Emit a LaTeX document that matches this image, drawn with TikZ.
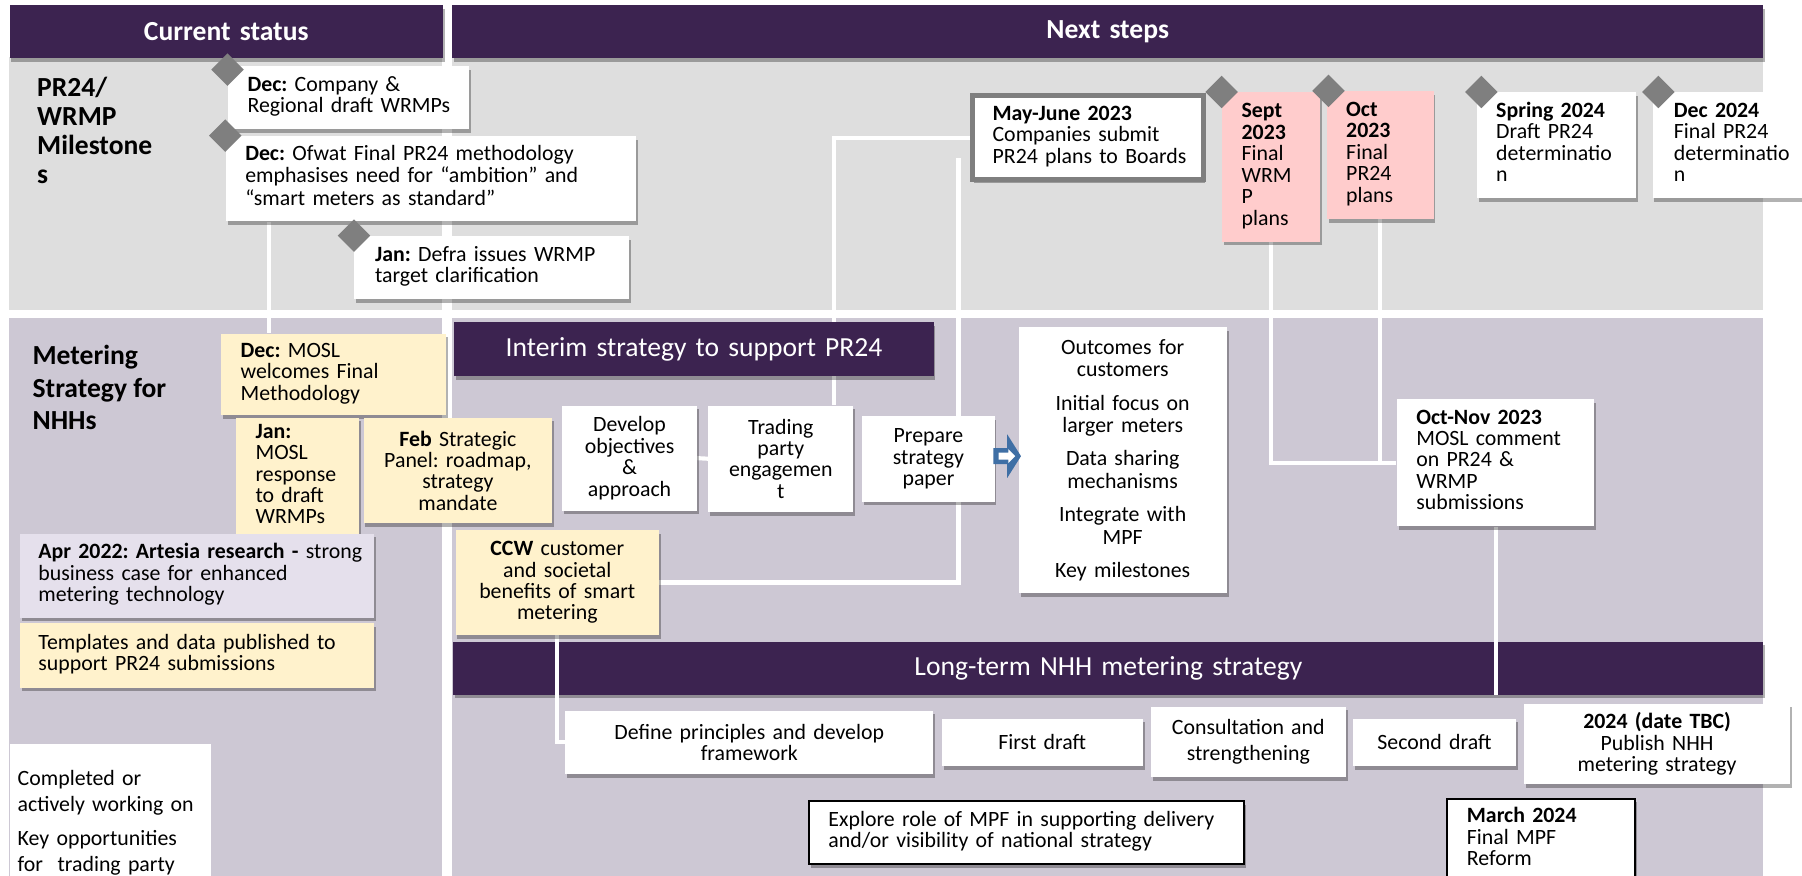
\documentclass[tikz,border=0pt]{standalone}
\usepackage{fontspec}
\setmainfont{Carlito}
\frenchspacing
\usetikzlibrary{shadows,calc}
\definecolor{hdrc}{HTML}{3C2350}
\definecolor{panA}{HTML}{DEDEDE}
\definecolor{panB}{HTML}{CDC8D4}
\definecolor{cream}{HTML}{FFF2CC}
\definecolor{pinkb}{HTML}{FFCCCC}
\definecolor{lav}{HTML}{E5E0EC}
\definecolor{diamgrey}{HTML}{7F7F7F}
\definecolor{arrowblue}{HTML}{3F6FA5}
\pgfdeclarelayer{back}\pgfdeclarelayer{low}\pgfdeclarelayer{heads}\pgfdeclarelayer{conn}
\pgfsetlayers{back,low,heads,conn,main}
\newcommand{\mylines}[1]{\begin{tabular}{@{}l@{}}#1\end{tabular}}
\newcommand{\mybox}[8]{%
  \pgfmathsetmacro{\myW}{(#4-#2)/2}%
  \pgfmathsetmacro{\myH}{(#5-#3)/2}%
  \pgfmathsetmacro{\myT}{(#4-#2)/2-#7}%
  \node[#6, anchor=north west, minimum width=\myW pt, minimum height=\myH pt,
        text width=\myT pt, inner xsep=0pt, inner ysep=0pt] (#1) at (#2,#3) {#8};}
\tikzset{
  shad/.style={drop shadow={shadow xshift=0.8pt,shadow yshift=-1.6pt,opacity=0.3,fill=black}},
  wbox/.style={fill=white, shad, align=left},
  wboxc/.style={fill=white, shad, align=center},
  cbox/.style={fill=cream, shad, align=left},
  cboxc/.style={fill=cream, shad, align=center},
  pbox/.style={fill=pinkb, shad, align=left},
  lbox/.style={fill=lav, shad, align=left},
  kbox/.style={fill=white, draw=black, line width=0.9pt, shad, align=left},
  mjbox/.style={fill=white, draw=diamgrey, line width=2.2pt, shad, align=left},
  hdr/.style={fill=hdrc, shad, text=white, align=center, font=\fontsize{12}{14}\selectfont},
  legst/.style={fill=white, align=left, font=\fontsize{9.5}{11.5}\selectfont},
  conn/.style={draw=white, line width=1.8pt},
  diam/.style={fill=diamgrey, minimum size=10pt, inner sep=0pt, rotate=45},
  arrowst/.style={fill=arrowblue},
  arrowin/.style={fill=white},
  lblA/.style={font=\fontsize{12}{12.6}\selectfont\bfseries, align=left, inner sep=0pt, anchor=north west},
  lblB/.style={font=\fontsize{12}{14.1}\selectfont\bfseries, align=left, inner sep=0pt, anchor=north west},
}
\begin{document}
\begin{tikzpicture}[x=0.5pt, y=-0.5pt, font=\fontsize{9.5}{9.3}\selectfont]
\useasboundingbox (0,0) rectangle (1568,762);
\begin{pgfonlayer}{back}
\fill[white] (0,0) rectangle (1568,762);
\fill[panA] (8,50) rectangle (385,270);
\fill[panA] (393,50) rectangle (1534,270);
\fill[panB] (8,277) rectangle (385,762);
\fill[panB] (393,277) rectangle (1534,762);
\end{pgfonlayer}

% headers
\begin{pgfonlayer}{heads}
\mybox{hcur}{8}{4}{385}{50}{hdr}{4}{\textbf{Current status}}
\mybox{hnext}{393}{4}{1534}{50}{hdr}{4}{\textbf{Next steps}}
\mybox{hint}{395}{280}{812}{327}{hdr}{4}{Interim strategy to support PR24}
\mybox{hlong}{394}{558}{1534}{604}{hdr}{4}{Long-term NHH metering strategy}
\end{pgfonlayer}

% row labels
\node[lblA] (lblpr) at (32,67) {PR24/\\WRMP\\Milestone\\s};
\node[lblB] (lblmet) at (28,300) {Metering\\Strategy for\\NHHs};

% top milestones
\mybox{companydec}{198}{57}{408}{112}{wbox}{17}{\mylines{\textbf{Dec:} Company \&\\Regional draft WRMPs}}
\mybox{ofwat}{196}{118}{553}{192}{wbox}{17}{\mylines{\textbf{Dec:} Ofwat Final PR24 methodology\\emphasises need for “ambition” and\\“smart meters as standard”}}
\mybox{defra}{308}{205}{547}{260}{wbox}{18}{\mylines{\textbf{Jan:} Defra issues WRMP\\target clarification}}
\mybox{mayjune}{844}{81}{1045}{154}{mjbox}{17.5}{\mylines{\textbf{May-June 2023}\\Companies submit\\PR24 plans to Boards}}
\mybox{sept}{1063}{80}{1148}{210}{pbox}{17}{\mylines{\textbf{Sept}\\\textbf{2023}\\Final\\WRM\\P\\plans}}
\mybox{oct}{1154}{79}{1247}{190}{pbox}{17}{\mylines{\textbf{Oct}\\\textbf{2023}\\Final\\PR24\\plans}}
\mybox{spring}{1285}{80}{1423}{172}{wbox}{16.5}{\mylines{\textbf{Spring 2024}\\Draft PR24\\determinatio\\n}}
\mybox{dectwo}{1437.6}{80}{1568}{172}{wbox}{18.5}{\mylines{\textbf{Dec 2024}\\Final PR24\\determinatio\\n}}

% bottom-left
\mybox{mosldec}{192}{290}{388}{361}{cbox}{17}{\mylines{\textbf{Dec:} MOSL\\welcomes Final\\Methodology}}
\mybox{janmosl}{205}{363}{312}{466}{cbox}{17}{\mylines{\textbf{Jan:}\\MOSL\\response\\to draft\\WRMPs}}
\mybox{feb}{316}{363}{480}{455}{cboxc}{4}{\textbf{Feb} Strategic\\Panel: roadmap,\\strategy\\mandate}
\mybox{apr}{17}{464}{325}{537}{lbox}{16}{\mylines{\textbf{Apr 2022: Artesia research -} strong\\business case for enhanced\\metering technology}}
\mybox{templ}{17}{542}{325}{598}{cbox}{16}{\mylines{Templates and data published to\\support PR24 submissions}}
\mybox{ccw}{396}{461}{573}{552}{cboxc}{4}{\textbf{CCW} customer\\and societal\\benefits of smart\\metering}
\mybox{legend}{8}{647}{183}{785}{legst}{7}{\mylines{Completed or\\actively working on\\[3pt]Key opportunities\\for\ \ trading party}}

% interim strategy
\mybox{develop}{488.8}{352.5}{606}{444}{wboxc}{4}{Develop\\objectives\\\&\\approach}
\mybox{trading}{616}{352.5}{742}{445}{wboxc}{4}{Trading\\party\\engagemen\\t}
\mybox{prepare}{750}{362}{865}{436}{wboxc}{4}{Prepare\\strategy\\paper}
\mybox{outcomes}{886}{284}{1067}{516}{wboxc,font=\fontsize{9.5}{9.8}\selectfont}{4}{Outcomes for\\customers\\[4.7pt]Initial focus on\\larger meters\\[4.7pt]Data sharing\\mechanisms\\[4.7pt]Integrate with\\MPF\\[4.7pt]Key milestones}
\mybox{octnov}{1215}{347}{1387}{457.5}{wbox}{17}{\mylines{\textbf{Oct-Nov 2023}\\MOSL comment\\on PR24 \&\\WRMP\\submissions}}

% long-term strategy
\mybox{define}{491.5}{618}{811.7}{673}{wboxc}{4}{Define principles and develop\\framework}
\mybox{first}{819}{625}{994}{666}{wboxc}{4}{First draft}
\mybox{consult}{1001}{614.5}{1170.6}{676}{wboxc}{4}{Consultation and\\[2pt]strengthening}
\mybox{second}{1177}{625}{1318.6}{666}{wboxc}{4}{Second draft}
\mybox{tbc}{1326}{612}{1557}{682}{wboxc}{4}{\textbf{2024 (date TBC)}\\Publish NHH\\metering strategy}
\mybox{explore}{703}{696}{1081.6}{751}{kbox}{17}{\mylines{Explore role of MPF in supporting delivery\\and/or visibility of national strategy}}
\mybox{march}{1258}{694}{1422}{766}{kbox}{17.5}{\mylines{\textbf{March 2024}\\Final MPF\\Reform}}

% diamonds
\node[diam] (d1) at ([yshift=-1.8pt]companydec.north west) {};
\node[diam] (d2) at (ofwat.north west) {};
\node[diam] (d3) at (defra.north west) {};
\node[diam] (d4) at (sept.north west) {};
\node[diam] (d5) at ([xshift=1pt]oct.north west) {};
\node[diam] (d6) at ([xshift=2pt]spring.north west) {};
\node[diam] (d7) at ([xshift=2.7pt]dectwo.north west) {};

% arrow between prepare and outcomes
\coordinate (ac) at ($(prepare.east)!0.5!(outcomes.west)+(0,1.5pt)$);
\fill[arrowst, shift={(ac)}] (-11.5,-7) -- (0.5,-7) -- (0.5,-19) -- (12.5,0) -- (0.5,19) -- (0.5,7) -- (-11.5,7) -- cycle;
\fill[arrowin, shift={(ac)}] (-7,-3) -- (1.5,-3) -- (1.5,-6) -- (7.5,0) -- (1.5,6) -- (1.5,3) -- (-7,3) -- cycle;

% connectors
\begin{pgfonlayer}{low}
\draw[conn] (mayjune.west) -| ([xshift=55pt]trading.north west);
\end{pgfonlayer}
\begin{pgfonlayer}{conn}
\coordinate (c1) at ([xshift=19pt]ofwat.south west);
\draw[conn] (c1) -- (c1 |- mosldec.north);
\draw[conn] (ccw.east) -| ([xshift=-5pt,yshift=-9pt]mayjune.west);
\draw[conn] (sept.south) |- (octnov.west);
\draw[conn] (oct.south) -- (oct.south |- octnov.west);
\draw[conn] (octnov.south) -- (octnov.south |- hlong.south);
\draw[conn] (ccw.south) |- (define.west);
\draw[conn] (develop.east) -- (trading.west);
\end{pgfonlayer}
\end{tikzpicture}
\end{document}
